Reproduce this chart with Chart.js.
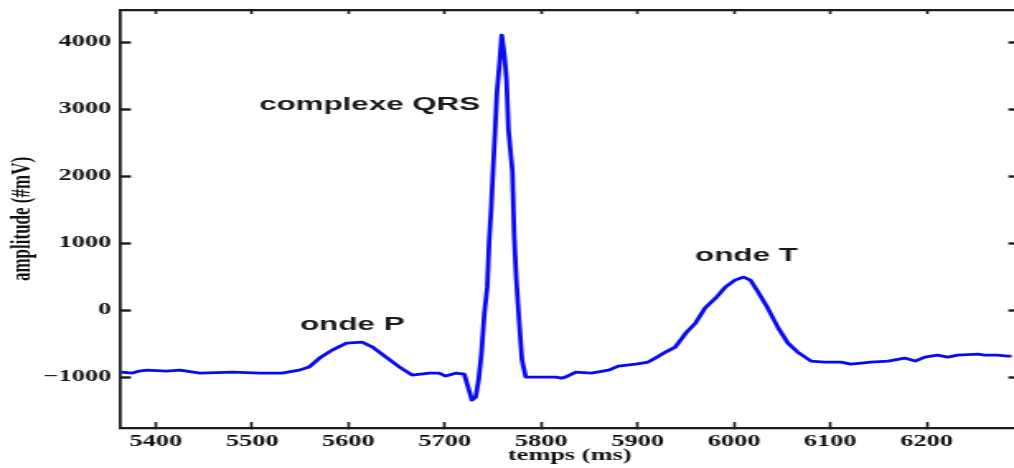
<!DOCTYPE html>
<html lang="fr">
<head>
<meta charset="utf-8">
<title>ECG - onde P, complexe QRS, onde T</title>
<script src="https://cdn.jsdelivr.net/npm/chart.js@4.4.1/dist/chart.umd.min.js"></script>
<style>
    html, body { margin: 0; padding: 0; background: #fff; overflow: hidden; }
    /* la figure est tracée étroite puis étirée en largeur ; le bord droit du cadre sort de la page */
    #stage { width: 619px; height: 468px; transform: scaleX(1.64878); transform-origin: 0 0; }
</style>
</head>
<body>
<div id="stage"><canvas id="ecg"></canvas></div>
<script>
//! ==================== Données ====================
// temps (ms) et amplitude (µV) d'un battement
const timeMs = [
    5364, 5376, 5383, 5391, 5411, 5425, 5446, 5480, 5508, 5531,
    5549, 5559, 5570, 5583, 5598, 5614, 5625, 5639, 5653, 5666,
    5684, 5694, 5701, 5712, 5720, 5725, 5728, 5732, 5735, 5738,
    5741, 5744, 5746, 5748, 5750, 5752, 5754, 5757, 5759, 5762,
    5764, 5766, 5770, 5772, 5774, 5777, 5780, 5784, 5815, 5821,
    5825, 5836, 5852, 5870, 5880, 5898, 5911, 5922, 5929, 5939,
    5950, 5960, 5970, 5981, 5991, 6001, 6010, 6017, 6025, 6035,
    6046, 6056, 6066, 6080, 6094, 6111, 6121, 6132, 6142, 6160,
    6177, 6188, 6198, 6211, 6222, 6232, 6253, 6260, 6273, 6284,
    6288
];
const amplitude = [
    -925, -940, -910, -896, -910, -896, -940, -925, -940, -940,
    -896, -851, -716, -597, -493, -478, -552, -701, -851, -970,
    -940, -940, -985, -940, -955, -1194, -1343, -1298, -1045, -642,
    -45, 343, 1045, 1493, 2090, 2642, 3239, 3731, 4104, 3776,
    3433, 2687, 2090, 1090, 493, -149, -746, -1000, -1000, -1015,
    -1000, -925, -940, -896, -836, -806, -776, -687, -627, -552,
    -343, -194, 30, 179, 343, 448, 493, 448, 269, 30,
    -269, -493, -627, -761, -776, -776, -806, -791, -776, -761,
    -716, -761, -701, -672, -701, -672, -657, -672, -672, -687,
    -687
];

const xTicks = [5400, 5500, 5600, 5700, 5800, 5900, 6000, 6100, 6200];
const yTicks = [-1000, 0, 1000, 2000, 3000, 4000];

// étiquettes des ondes, placées en coordonnées (ms, µV)
const waveLabels = ["onde P", "complexe QRS", "onde T"];
const labelTimes = [5604, 5622, 6013];
const labelLevels = [-224, 3060, 815];

//! ==================== Chart-JS ====================
const axisColor = "#1c1c1c";
const serifBold = { family: "'Liberation Serif', 'Times New Roman', serif", weight: "bold", size: 16 };

function fixTicks(list) {
    return scale => { scale.ticks = list.map(value => ({ value })); };
}

// taille fixe de l'axe, sans marge ajoutée pour les étiquettes
function fixSize(prop, size) {
    return scale => {
        scale[prop] = size;
        scale.paddingLeft = scale.paddingRight = scale.paddingTop = scale.paddingBottom = 0;
    };
}

function fmt(v) {
    return v < 0 ? "\u2212" + Math.abs(v) : String(v);
}

// textes des ondes
const waveLabelPlugin = {
    id: "waveLabels",
    afterDatasetsDraw(chart) {
        const { ctx, scales: { x, y } } = chart;
        ctx.save();
        ctx.font = "bold 19px 'Liberation Sans', Arial, sans-serif";
        ctx.fillStyle = "#1a1a1a";
        ctx.textAlign = "center";
        ctx.textBaseline = "middle";
        waveLabels.forEach((text, i) => {
            ctx.fillText(text, x.getPixelForValue(labelTimes[i]), y.getPixelForValue(labelLevels[i]));
        });
        ctx.restore();
    }
};

new Chart(document.getElementById("ecg"), {
    type: "line",
    data: {
        datasets: [{
            data: timeMs.map((t, i) => ({ x: t, y: amplitude[i] })),
            borderColor: "#0a0af2",
            borderWidth: 2.8,
            borderJoinStyle: "round",
            pointRadius: 0,
            tension: 0,
            fill: false
        }]
    },
    options: {
        responsive: true,
        maintainAspectRatio: false,
        animation: false,
        layout: { padding: 0 },
        plugins: {
            legend: { display: false },
            tooltip: { enabled: false }
        },
        scales: {
            x: {
                type: "linear",
                position: "bottom",
                min: 5364,
                max: 6295,
                afterBuildTicks: fixTicks(xTicks),
                afterFit: fixSize("height", 40),
                ticks: { color: "#111", font: serifBold, padding: 10, maxRotation: 0, autoSkip: false, callback: fmt },
                grid: { drawOnChartArea: false, tickLength: -6, tickWidth: 1.6, tickColor: axisColor },
                border: { color: axisColor, width: 2.3 },
                title: {
                    display: true,
                    text: "temps (ms)",
                    color: "#111",
                    font: serifBold,
                    padding: { top: 3, bottom: 3 }
                }
            },
            xTop: {
                type: "linear",
                position: "top",
                min: 5364,
                max: 6295,
                afterBuildTicks: fixTicks(xTicks),
                afterFit: fixSize("height", 10),
                ticks: { display: false },
                grid: { drawOnChartArea: false, tickLength: -4, tickWidth: 1.6, tickColor: axisColor },
                border: { color: axisColor, width: 2.3 }
            },
            y: {
                type: "linear",
                position: "left",
                min: -1760,
                max: 4480,
                afterBuildTicks: fixTicks(yTicks),
                afterFit: fixSize("width", 73.39),
                ticks: { color: "#111", font: serifBold, padding: 12, callback: fmt },
                grid: { drawOnChartArea: false, tickLength: -6, tickWidth: 2.4, tickColor: axisColor },
                border: { color: axisColor, width: 1.8 },
                title: {
                    display: true,
                    text: "amplitude (#mV)",
                    color: "#111",
                    font: { family: "'Liberation Serif', 'Times New Roman', serif", weight: "bold", size: 17 },
                    padding: { top: 3, bottom: 3 }
                }
            },
            yRight: {
                type: "linear",
                position: "right",
                min: -1760,
                max: 4480,
                afterBuildTicks: fixTicks(yTicks),
                afterFit: fixSize("width", 0),
                ticks: { display: false },
                grid: { drawOnChartArea: false, tickLength: -6, tickWidth: 2.4, tickColor: axisColor },
                border: { color: axisColor, width: 1.8 }
            }
        }
    },
    plugins: [waveLabelPlugin]
});
</script>
</body>
</html>
